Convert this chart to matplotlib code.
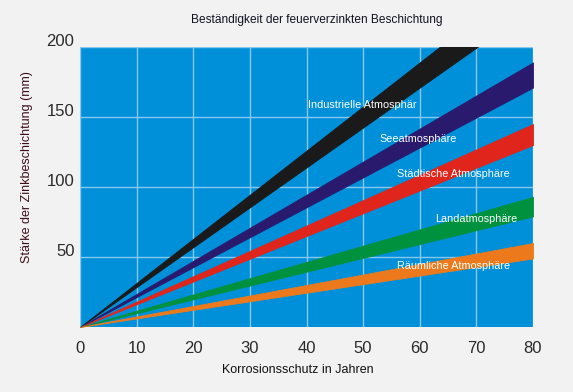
import matplotlib
import matplotlib.pyplot as plt
from matplotlib.transforms import ScaledTranslation

matplotlib.use("Agg")
plt.rcParams["font.family"] = ["Liberation Sans", "DejaVu Sans"]

# coating loss bands: thickness (µm) consumed after 80 years, lower / upper edge
YEARS = [0, 80]
BAND_NAMES = [
    "Industrielle Atmosphär",
    "Seeatmosphäre",
    "Städtische Atmosphäre",
    "Landatmosphäre",
    "Räumliche Atmosphäre",
]
BAND_LOW_80 = [228, 171, 130, 79, 49]
BAND_HIGH_80 = [252, 189, 145, 93, 60]
BAND_COLORS = ["#1b1a1a", "#2a1a6e", "#e0261c", "#00913f", "#ec7a1c"]

# label anchor (years, thickness) for each band
LABEL_X = [49.8, 59.7, 66.0, 70.0, 66.0]
LABEL_Y = [158.5, 134.0, 109.0, 77.0, 43.5]

X_TICKS = [0, 10, 20, 30, 40, 50, 60, 70, 80]
Y_TICKS = [50, 100, 150, 200]

fig = plt.figure(figsize=(5.73, 3.92), dpi=100)
fig.patch.set_facecolor("#f2f2f2")
ax = fig.add_axes([80 / 573, 65 / 392, 453 / 573, 280 / 392])
ax.set_facecolor("#008fd9")

for name, lo, hi, col in zip(BAND_NAMES, BAND_LOW_80, BAND_HIGH_80, BAND_COLORS):
    ax.fill_between(YEARS, [0, lo], [0, hi], color=col, lw=0.6, zorder=3)

for name, x, y in zip(BAND_NAMES, LABEL_X, LABEL_Y):
    ax.text(x, y, name, color="white", fontsize=7.8, ha="center", va="center", zorder=5)

ax.set_xlim(0, 80)
ax.set_ylim(0, 200)
ax.set_xticks(X_TICKS)
ax.set_yticks(Y_TICKS)
ax.grid(True, color="#86c9f0", lw=1.0, zorder=1)
ax.set_axisbelow(True)
for s in ax.spines.values():
    s.set_visible(False)
ax.tick_params(length=0, labelsize=12, labelcolor="#2a2a2a")
ax.tick_params(axis="x", pad=10)
ax.tick_params(axis="y", pad=4)
shift = ScaledTranslation(0, 7 / 100, fig.dpi_scale_trans)
for lab in ax.get_yticklabels():
    lab.set_transform(lab.get_transform() + shift)

fig.text(317 / 573, 1 - 20 / 392, "Beständigkeit der feuerverzinkten Beschichtung",
         fontsize=8.6, color="#111122", ha="center", va="center")
fig.text(298 / 573, 1 - 370 / 392, "Korrosionsschutz in Jahren",
         fontsize=9, color="#111111", ha="center", va="center")
fig.text(27 / 573, 1 - 167 / 392, "Stärke der Zinkbeschichtung (mm)",
         fontsize=9, color="#3b0d1a", rotation=90, ha="center", va="center")

fig.savefig("out.png", dpi=100, facecolor=fig.get_facecolor())
